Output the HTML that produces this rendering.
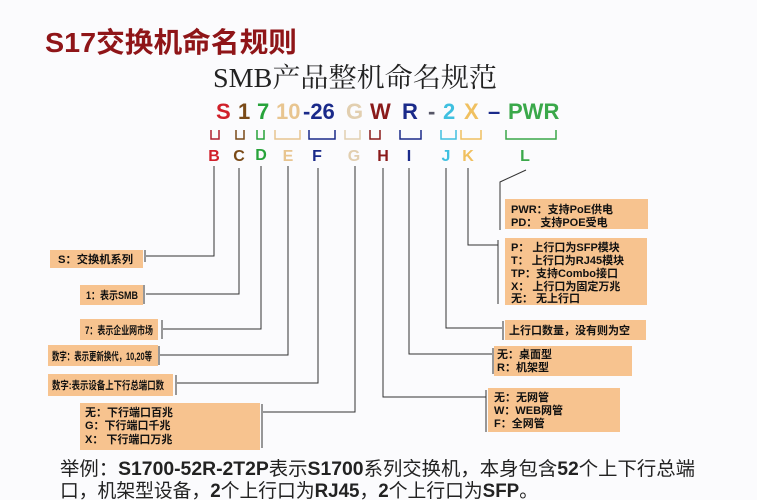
<!DOCTYPE html>
<html><head><meta charset="utf-8"><style>
body{margin:0;background:#fbfbfd;}
svg{display:block}
.b{font-family:"Liberation Sans","Noto Sans CJK SC",sans-serif;font-weight:bold;font-size:11px;fill:#111}
.c{font-family:"Liberation Sans","Noto Sans CJK SC",sans-serif;font-size:22px;}
</style></head><body>
<svg width="757" height="500" viewBox="0 0 757 500" xmlns="http://www.w3.org/2000/svg">
<rect width="757" height="500" fill="#fbfbfd"/>
<text x="45" y="52" font-family="Liberation Sans,Noto Sans CJK SC,sans-serif" font-weight="bold" font-size="28" fill="#8f1518" textLength="252" lengthAdjust="spacingAndGlyphs">S17交换机命名规则</text>
<text x="213" y="87" font-family="Liberation Serif,Noto Serif CJK SC,serif" font-size="27" fill="#222" textLength="284" lengthAdjust="spacingAndGlyphs">SMB产品整机命名规范</text>
<g class="c" font-weight="600">
<text x="216" y="119" fill="#d0202a">S</text>
<text x="238" y="119" fill="#7a4a18">1</text>
<text x="257" y="119" fill="#27a33a">7</text>
<text x="276" y="119" fill="#e8c590">10</text>
<text x="303" y="119" fill="#1a2a8a">-26</text>
<text x="346" y="119" fill="#e2cfb0">G</text>
<text x="370" y="119" fill="#8a1a1a">W</text>
<text x="402" y="119" fill="#1a2a8a">R</text>
<text x="428" y="119" fill="#556">-</text>
<text x="443" y="119" fill="#3fc0e0">2</text>
<text x="464" y="119" fill="#f0c060">X</text>
<text x="488" y="119" fill="#1a2a8a">–</text>
<text x="508" y="119" fill="#3aa84a">PWR</text>
</g>
<g fill="none" stroke-width="1.5">
<path d="M211,130v9h8v-9" stroke="#b02030"/>
<path d="M236,130v9h8v-9" stroke="#7a4a18"/>
<path d="M257,130v9h7v-9" stroke="#27a33a"/>
<path d="M275,130v9h25v-9" stroke="#e8c590"/>
<path d="M309,130v9h26v-9" stroke="#1a2a8a"/>
<path d="M345,130v9h15v-9" stroke="#e2cfb0"/>
<path d="M370,130v9h10v-9" stroke="#8a1a1a"/>
<path d="M400,130v9h21v-9" stroke="#1a2a8a"/>
<path d="M441,130v9h15v-9" stroke="#3fc0e0"/>
<path d="M461,130v9h20v-9" stroke="#f0c060"/>
<path d="M506,130v9h50v-9" stroke="#3aa84a"/>
</g>
<g font-family="Liberation Sans,sans-serif" font-size="16" font-weight="bold" text-anchor="middle">
<text x="214" y="161" fill="#d0202a">B</text>
<text x="239" y="161" fill="#7a4a18">C</text>
<text x="261" y="160" fill="#27a33a">D</text>
<text x="288" y="161" fill="#e8c590">E</text>
<text x="317" y="161" fill="#1a2a8a">F</text>
<text x="354" y="161" fill="#e2cfb0">G</text>
<text x="383" y="161" fill="#8a1a1a">H</text>
<text x="409" y="161" fill="#1a2a8a">I</text>
<text x="446" y="161" fill="#3fc0e0">J</text>
<text x="468" y="161" fill="#f0c060">K</text>
<text x="525" y="161" fill="#3aa84a">L</text>
</g>
<g fill="#f7c38f">
<rect x="50" y="250" width="93" height="18"/>
<rect x="80" y="285" width="63" height="20"/>
<rect x="80" y="319" width="78" height="21"/>
<rect x="48" y="345" width="110" height="21"/>
<rect x="48" y="374" width="125" height="22"/>
<rect x="80" y="403" width="180" height="47"/>
<rect x="488" y="388" width="132" height="44"/>
<rect x="494" y="346" width="138" height="30"/>
<rect x="505" y="320" width="141" height="20"/>
<rect x="505" y="238" width="142" height="67"/>
<rect x="505" y="199" width="143" height="30"/>
</g>
<g fill="none" stroke="#333" stroke-width="1">
<path d="M214,166V256H146M145,250v12"/>
<path d="M239,168V294H146M144,285v19"/>
<path d="M261,166V329H163M162,320v19"/>
<path d="M288,166V355H160M159,346v19"/>
<path d="M318,168V383H177M176,375v20"/>
<path d="M355,166V412H263M262,404v44"/>
<path d="M383,168V397H486M486,390v42"/>
<path d="M409,168V354H492M493,348v26"/>
<path d="M446,168V328H502M503,321v19"/>
<path d="M468,168V245H498M498,240v64"/>
<path d="M526,170L500,182V230"/>
</g>
<g class="b">
<text x="58" y="263" textLength="75" lengthAdjust="spacingAndGlyphs">S：交换机系列</text>
<text x="86" y="299" textLength="52" lengthAdjust="spacingAndGlyphs">1：表示SMB</text>
<text x="85" y="334" textLength="68" lengthAdjust="spacingAndGlyphs">7：表示企业网市场</text>
<text x="52" y="360" textLength="100" lengthAdjust="spacingAndGlyphs">数字：表示更新换代，10,20等</text>
<text x="52" y="389" textLength="112" lengthAdjust="spacingAndGlyphs">数字:表示设备上下行总端口数</text>
<text x="85" y="416">无：下行端口百兆</text>
<text x="85" y="429">G：下行端口千兆</text>
<text x="85" y="443">X：  下行端口万兆</text>
<text x="494" y="401">无：无网管</text>
<text x="494" y="414">W：WEB网管</text>
<text x="494" y="427">F：全网管</text>
<text x="497" y="358">无：桌面型</text>
<text x="497" y="371">R：机架型</text>
<text x="509" y="334">上行口数量，没有则为空</text>
<text x="511" y="251">P：   上行口为SFP模块</text>
<text x="511" y="264">T：   上行口为RJ45模块</text>
<text x="511" y="277">TP：支持Combo接口</text>
<text x="511" y="290">X：   上行口为固定万兆</text>
<text x="511" y="302">无：  无上行口</text>
<text x="511" y="213">PWR：支持PoE供电</text>
<text x="511" y="226">PD：     支持POE受电</text>
</g>
<g font-family="Liberation Sans,Noto Sans CJK SC,sans-serif" font-size="19" fill="#222">
<text x="60" y="475" textLength="635" lengthAdjust="spacingAndGlyphs">举例：<tspan font-weight="bold">S1700-52R-2T2P</tspan>表示<tspan font-weight="bold">S1700</tspan>系列交换机，本身包含<tspan font-weight="bold">52</tspan>个上下行总端</text>
<text x="60" y="497" textLength="478" lengthAdjust="spacingAndGlyphs">口，机架型设备，<tspan font-weight="bold">2</tspan>个上行口为<tspan font-weight="bold">RJ45</tspan>，<tspan font-weight="bold">2</tspan>个上行口为<tspan font-weight="bold">SFP</tspan>。</text>
</g>
</svg>
</body></html>
